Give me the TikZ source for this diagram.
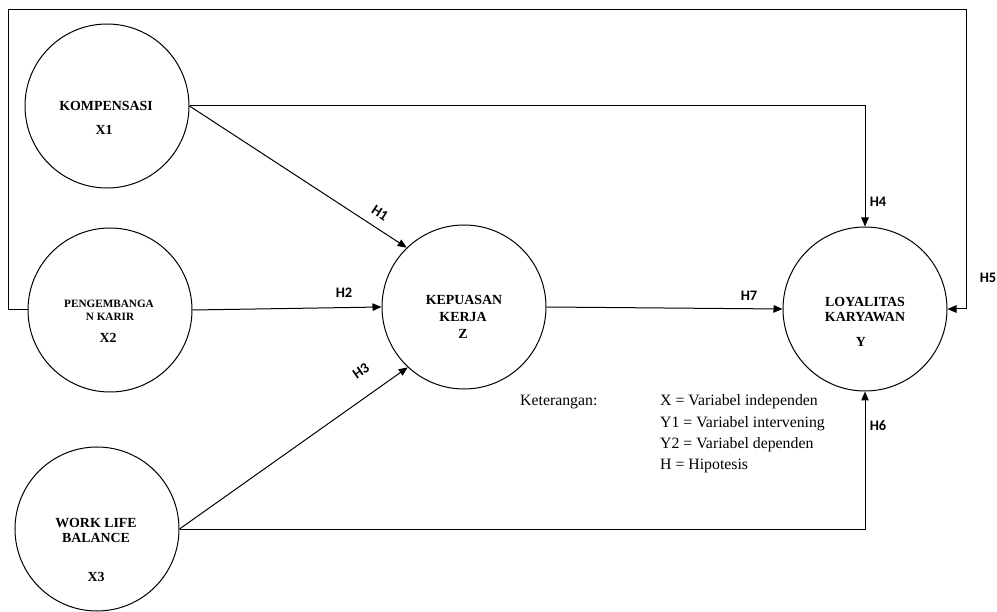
\documentclass[tikz,border=0pt]{standalone}
\usepackage{fontspec}
\setmainfont{Liberation Serif}
\newfontfamily\hfont{Carlito}
\usetikzlibrary{arrows.meta}
\begin{document}
\begin{tikzpicture}[x=1pt,y=-1pt,
  var/.style={circle,draw,line width=1pt,minimum size=164pt,inner sep=0pt},
  vtxt/.style={font=\fontsize{13.9}{15}\selectfont\bfseries,inner sep=0pt,anchor=center},
  vsmall/.style={font=\fontsize{11.2}{12}\selectfont\bfseries,inner sep=0pt,anchor=center},
  hlab/.style={font=\hfont\fontsize{14.5}{16}\selectfont\bfseries,inner sep=0pt,anchor=center},
  leg/.style={font=\fontsize{15.8}{17}\selectfont,inner sep=0pt,anchor=west},
  arr/.style={line width=1pt,-{Triangle[length=9pt,width=7.5pt]}},
  ln/.style={line width=1pt}]
\useasboundingbox (0,0) rectangle (997,612);
% circles
\node[var] (komp) at (107,106) {};
\node[var] (peng) at (110,310) {};
\node[var] (wlb) at (97,529) {};
\node[var] (kep) at (464,307) {};
\node[var] (loy) at (865,309) {};
% circle texts
\node[vtxt] (t1a) at (106,105.5) {KOMPENSASI};
\node[vtxt] (t1b) at (104,130) {X1};
\node[vsmall] (t2a) at (109,304) {PENGEMBANGA};
\node[vsmall] (t2b) at (110,316.5) {N KARIR};
\node[vtxt] (t2c) at (108,338) {X2};
\node[vtxt] (t3a) at (96,523) {WORK LIFE};
\node[vtxt] (t3b) at (96,538) {BALANCE};
\node[vtxt] (t3c) at (96,577) {X3};
\node[vtxt] (t4a) at (464,300) {KEPUASAN};
\node[vtxt] (t4b) at (463,317) {KERJA};
\node[vtxt] (t4c) at (463,334) {Z};
\node[vtxt] (t5a) at (865,302) {LOYALITAS};
\node[vtxt] (t5b) at (865,317) {KARYAWAN};
\node[vtxt] (t5c) at (861,342) {Y};
% frame corners
\coordinate (tl) at (8,10);
\coordinate (tr) at (966,10);
% connectors
\draw[arr] (komp.east) -- (kep.134);
\draw[arr] (peng.east) -- (kep.west);
\draw[arr] (wlb.east) -- (kep.227);
\draw[arr] (komp.east) -| (loy.north);
\draw[arr] (peng.west) -| (tl) -- (tr) |- (loy.east);
\draw[arr] (wlb.east) -| (loy.south);
\draw[arr] (kep.east) -- (loy.west);
% hypothesis labels
\node[hlab,rotate=-33] (h1) at (380,213) {H1};
\node[hlab] (h2) at (344,293) {H2};
\node[hlab,rotate=35] (h3) at (361,371) {H3};
\node[hlab] (h4) at (878,202) {H4};
\node[hlab] (h5) at (988,278) {H5};
\node[hlab] (h6) at (878,426) {H6};
\node[hlab] (h7) at (749,296) {H7};
% legend
\node[leg] (k) at (520,402) {Keterangan:};
\node[leg] (l1) at (660,402) {X = Variabel independen};
\node[leg] (l2) at (660,423.3) {Y1 = Variabel intervening};
\node[leg] (l3) at (660,444.6) {Y2 = Variabel dependen};
\node[leg] (l4) at (660,466) {H = Hipotesis};
\end{tikzpicture}
\end{document}
